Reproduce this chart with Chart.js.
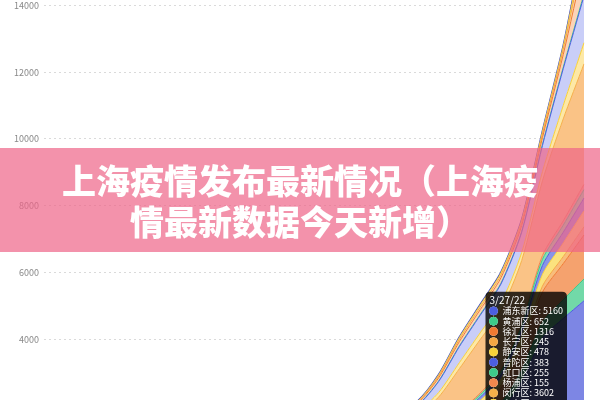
<!DOCTYPE html>
<html>
<head>
<meta charset="utf-8">
<script src="https://cdn.jsdelivr.net/npm/chart.js@4.4.1/dist/chart.umd.min.js"></script>
<style>
  html, body { margin: 0; padding: 0; width: 600px; height: 400px; overflow: hidden; background: #fff; }
  #wrap { position: absolute; left: 0; top: 0; width: 600px; height: 620px; }
  #banner {
    position: absolute; left: 0; top: 148px; width: 600px; height: 104px;
    background: rgba(238, 100, 135, 0.7); color: #fff;
    font-family: 'Noto Sans CJK SC', sans-serif; font-weight: 900;
    font-size: 34px; line-height: 41px; text-align: center;
    box-sizing: border-box; padding-top: 11px;
  }
</style>
</head>
<body>
<div id="wrap"><canvas id="c"></canvas></div>
<div id="banner">上海疫情发布最新情况（上海疫<br>情最新数据今天新增）</div>
<script>
// cumulative cases per district, 3/1/22 .. 3/27/22
var dates = ['3/1/22','3/2/22','3/3/22','3/4/22','3/5/22','3/6/22','3/7/22','3/8/22','3/9/22','3/10/22',
  '3/11/22','3/12/22','3/13/22','3/14/22','3/15/22','3/16/22','3/17/22','3/18/22','3/19/22','3/20/22',
  '3/21/22','3/22/22','3/23/22','3/24/22','3/25/22','3/26/22','3/27/22'];

var districts = ['浦东新区','黄浦区','徐汇区','长宁区','静安区','普陀区','虹口区','杨浦区',
  '闵行区','宝山区','嘉定区','金山区','松江区','青浦区','奉贤区','崇明区'];

var pudong   = [0,2,6,10,16,27,40,55,73,90,108,122,160,190,235,270,330,420,500,740,1070,1425,1855,2740,4050,4630,5160];
var huangpu  = [0,0,1,2,3,5,7,9,12,15,18,20,26,31,38,44,53,66,85,115,150,190,240,340,470,560,652];
var xuhui    = [0,1,2,4,6,10,14,19,25,31,37,42,55,65,80,93,112,138,150,205,270,350,450,640,900,1080,1316];
var changning= [0,0,0,1,1,2,3,4,6,7,8,9,12,14,18,21,25,30,35,45,60,75,95,130,180,210,245];
var jingan   = [0,0,1,1,2,4,5,7,10,12,14,16,21,25,31,36,43,52,60,80,105,135,175,250,350,410,478];
var putuo    = [0,0,1,1,2,3,4,5,7,8,10,11,15,17,21,25,29,35,40,55,75,100,130,190,270,320,383];
var hongkou  = [0,0,0,1,1,2,3,4,5,6,8,9,11,13,16,19,23,30,36,48,60,75,95,130,180,210,255];
var yangpu   = [0,0,0,1,1,1,2,3,4,5,6,6,8,9,11,13,16,20,24,32,40,50,60,80,115,130,155];
var minhang  = [2,5,11,17,27,43,62,85,112,140,168,190,250,300,370,425,540,720,820,960,1300,1600,1770,1865,2235,3050,3602];
var baoshan  = [0,0,1,2,3,5,7,9,12,15,18,21,27,32,40,46,55,68,90,135,180,200,220,240,275,400,633];
var jiading  = [0,1,3,6,10,16,23,32,42,52,63,72,94,112,138,158,180,200,200,330,480,525,570,605,780,1100,1400];
var jinshan  = [0,0,0,0,0,1,1,1,2,2,3,3,4,5,6,7,8,9,10,15,20,22,24,26,30,42,60];
var songjiang= [0,0,1,1,2,3,4,6,8,10,12,14,18,22,27,32,40,50,60,95,130,145,162,175,205,380,950];
var qingpu   = [0,0,0,1,1,2,3,4,5,6,7,8,10,12,15,17,20,25,30,50,70,78,86,92,105,160,350];
var fengxian = [0,0,0,0,1,1,2,3,3,4,5,6,7,8,10,12,14,17,20,35,50,57,63,70,75,85,230];
var chongming= [0,0,0,0,0,0,1,1,1,2,2,2,3,3,4,5,6,8,10,15,20,23,25,27,30,33,80];

var series = [pudong, huangpu, xuhui, changning, jingan, putuo, hongkou, yangpu,
  minhang, baoshan, jiading, jinshan, songjiang, qingpu, fengxian, chongming];

var lineColors = ['#4c5fe0','#3dcb8a','#f07a32','#f5a843','#f8d23a','#4c5fe0','#3dcb8a','#f2884e',
  '#f5b04a','#f8d23a','#4c5fe0','#3dcb8a','#f07a32','#f5a843','#f8d23a','#3f4cc0'];
var fillColors = ['#7d86e4','#72d9a8','#f5a26e','#f8bd7c','#fbe27e','#8a93e8','#85dfb4','#f6b08a',
  '#fac386','#fde8a6','#c9cef8','#bdebd3','#fbd3b8','#fcdcb5','#fdf0c6','#d5d9fa'];

var tipAnchor = 2720;

Chart.defaults.font.family = "'Noto Sans CJK SC', 'Noto Sans', sans-serif";

Chart.Tooltip.positioners.pinned = function (items) {
  if (!items.length) return false;
  var ys = this.chart.scales.y;
  return { x: items[0].element.x, y: ys.getPixelForValue(tipAnchor) };
};

var datasets = series.map(function (d, i) {
  return {
    label: districts[i],
    data: d,
    borderColor: lineColors[i],
    backgroundColor: fillColors[i],
    borderWidth: i === series.length - 1 ? 1.5 : 1,
    fill: i === 0 ? 'origin' : '-1'
  };
});

var wrap = document.getElementById('wrap');
var chart = new Chart(document.getElementById('c'), {
  type: 'line',
  data: { labels: dates, datasets: datasets },
  options: {
    responsive: true,
    maintainAspectRatio: false,
    animation: false,
    events: [],
    layout: { padding: { left: 0, right: 16, top: 0, bottom: 0 } },
    elements: {
      point: { radius: 0, hoverRadius: 0, hitRadius: 0 },
      line: { tension: 0.25 }
    },
    plugins: {
      legend: { display: false },
      tooltip: {
        mode: 'index',
        intersect: false,
        position: 'pinned',
        backgroundColor: 'rgba(0,0,0,0.8)',
        titleFont: { size: 10, weight: 'normal' },
        bodyFont: { size: 9, lineHeight: 1.14 },
        titleMarginBottom: 0,
        bodySpacing: 0,
        padding: { left: 4, right: 4, top: 2, bottom: 3 },
        caretSize: 0,
        caretPadding: 17,
        cornerRadius: 5,
        usePointStyle: true,
        boxWidth: 8,
        boxHeight: 8,
        boxPadding: 3,
        callbacks: {
          label: function (c) { return c.dataset.label + ': ' + c.raw; },
          labelColor: function (c) {
            return { borderColor: lineColors[c.datasetIndex], backgroundColor: lineColors[c.datasetIndex] };
          },
          labelPointStyle: function () { return { pointStyle: 'circle', rotation: 0 }; }
        }
      }
    },
    scales: {
      x: { display: false },
      y: {
        stacked: true,
        min: 0,
        max: 16000,
        ticks: { stepSize: 2000, padding: 5, color: '#888', font: { size: 9 },
          callback: function (v) { return v; } },
        grid: { color: '#dadada', drawTicks: false },
        border: { display: false, dash: [2, 3] },
        afterFit: function (s) { s.width = 44; }
      }
    }
  }
});

// size the plot so 2000 = 66.86px and 14000 sits at y=5 (the picture is a crop)
var ys = chart.scales.y;
var span = ys.getPixelForValue(0) - ys.getPixelForValue(14000);
wrap.style.height = (wrap.offsetHeight + (468 - span) * 16 / 14) + 'px';
chart.resize();
wrap.style.top = (5 - chart.scales.y.getPixelForValue(14000)) + 'px';

var last = dates.length - 1;
chart.tooltip.setActiveElements(districts.map(function (d, i) {
  return { datasetIndex: i, index: last };
}), { x: 0, y: 0 });
chart.update();
</script>
</body>
</html>
